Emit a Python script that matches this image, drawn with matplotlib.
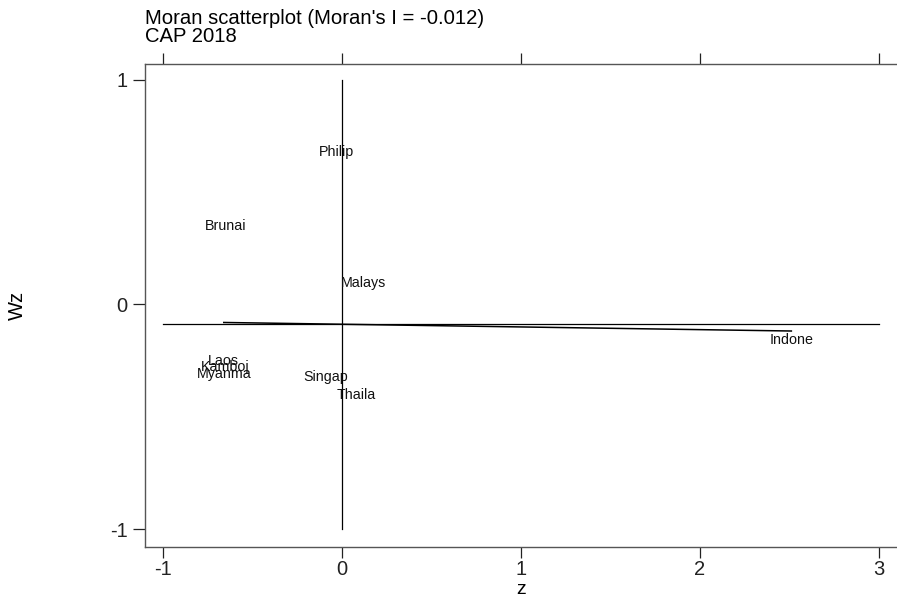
import numpy as np
import matplotlib
matplotlib.use("Agg")
import matplotlib.pyplot as plt

plt.rcParams["font.family"] = ["Liberation Sans", "DejaVu Sans"]

# data
countries = ["Philip", "Brunai", "Malays", "Laos", "Kamboj", "Myanma",
             "Singap", "Thaila", "Indone"]
z_vals  = [-0.03, -0.65, 0.12, -0.66, -0.65, -0.66, -0.09, 0.08, 2.51]
wz_vals = [0.68, 0.35, 0.094, -0.25, -0.28, -0.31, -0.325, -0.405, -0.16]

moran_i   = -0.012
intercept = -0.088
wz_mean   = -0.089
z_mean    = 0.0

x_ticks = [-1, 0, 1, 2, 3]
y_ticks = [-1, 0, 1]


def main():
    fig = plt.figure(figsize=(8.97, 5.96), dpi=100)
    ax = fig.add_axes([145 / 897, 1 - 547 / 596, 1 - 145 / 897, (547 - 64) / 596])

    z = np.array(z_vals)
    wz = np.array(wz_vals)

    # reference lines
    ax.plot([z_mean, z_mean], [min(y_ticks), max(y_ticks)], color="black", lw=0.9)
    ax.plot([min(x_ticks), max(x_ticks)], [wz_mean, wz_mean], color="black", lw=0.9)

    # fitted line over the z range
    xs = np.array([z.min(), z.max()])
    ax.plot(xs, intercept + moran_i * xs, color="black", lw=1.1)

    for name, x, y in zip(countries, z, wz):
        ax.text(x, y, name, fontsize=10.3, ha="center", va="center", color="#111111")

    ax.set_xlim(-1.1, 3.1)
    ax.set_ylim(-1.08, 1.071)

    ax.set_xticks(x_ticks)
    ax.set_xticklabels([str(t) for t in x_ticks])
    ax.set_yticks(y_ticks)
    ax.set_yticklabels([str(t) for t in y_ticks])
    ax.tick_params(axis="x", which="both", top=True, bottom=True, direction="out",
                   length=8, width=0.9, labelsize=14.5, pad=1.5, colors="#222222")
    ax.tick_params(axis="y", direction="out", length=8.5, width=0.9,
                   labelsize=14.5, pad=4, colors="#222222")

    for side in ["left", "top", "bottom"]:
        ax.spines[side].set_color("#555555")
        ax.spines[side].set_linewidth(1.0)
    ax.spines["right"].set_visible(False)

    # axis titles
    fig.text(521 / 897, 1 - 589 / 596, "z", fontsize=14, ha="center", va="center")
    fig.text(17 / 897, 1 - 305 / 596, "Wz", rotation=90, fontsize=14.5,
             ha="center", va="center")

    fig.text(145 / 897, 1 - 19 / 596, "Moran scatterplot (Moran's I = -0.012)",
             fontsize=14.6, ha="left", va="center")
    fig.text(145 / 897, 1 - 37 / 596, "CAP 2018",
             fontsize=14.6, ha="left", va="center")

    fig.savefig("out.png", dpi=100, facecolor="white")
    plt.close(fig)


if __name__ == "__main__":
    main()
